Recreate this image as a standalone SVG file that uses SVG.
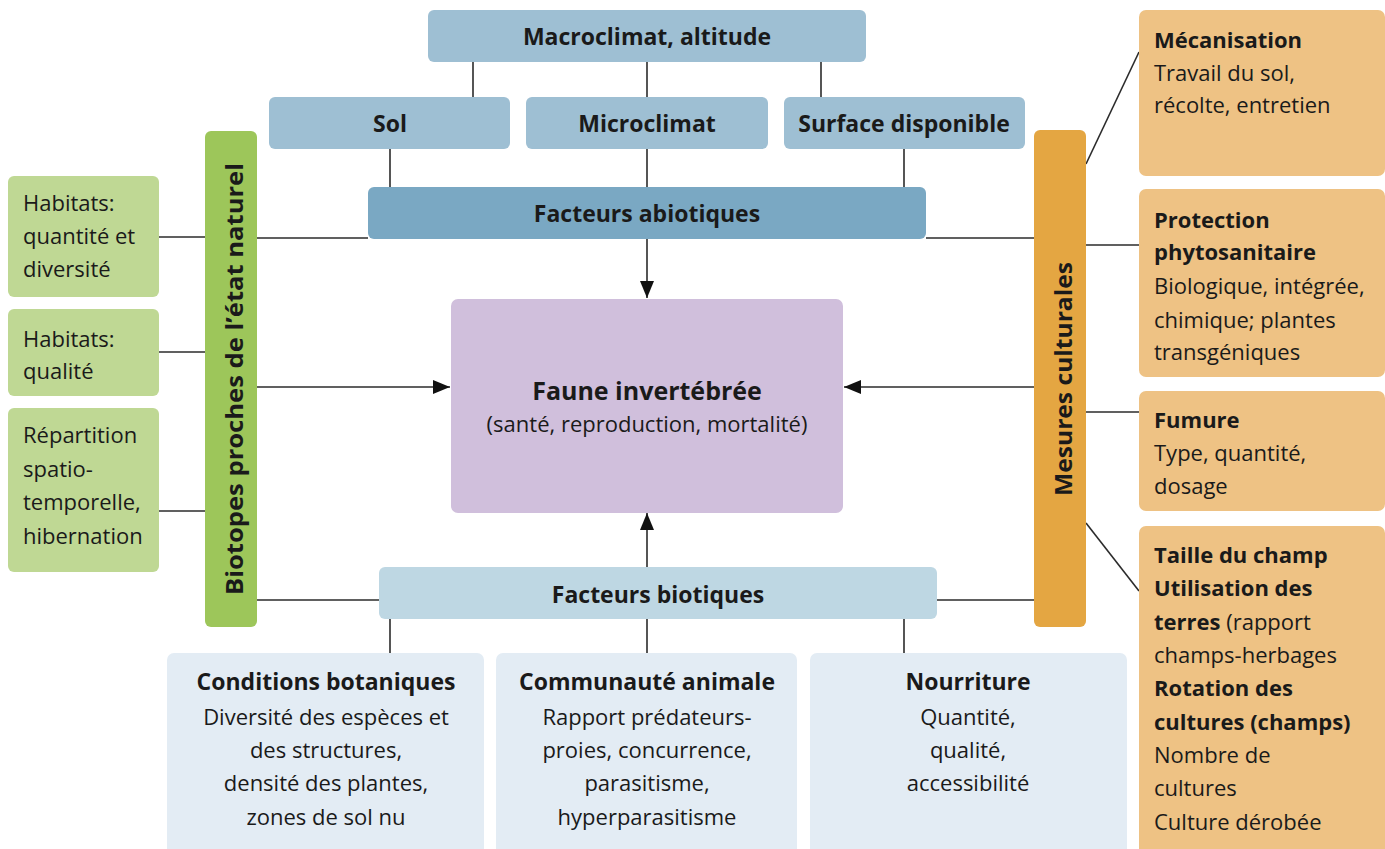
<svg xmlns="http://www.w3.org/2000/svg" width="1385" height="849" viewBox="0 0 1385 849">
<style>
text{font-family:"Open Sans","Noto Sans","DejaVu Sans",sans-serif;fill:#1a1a1a;font-size:22px}
.b{font-weight:bold}
.h{font-weight:bold;font-size:23px}
.c{text-anchor:middle}
.ab1{fill:#9ebfd3}
.ab2{fill:#7aa8c3}
.bi1{fill:#bed7e3}
.bi2{fill:#e3ecf4}
.pu{fill:#d0bfdc}
.gbar{fill:#9dc65a}
.gbox{fill:#bfd894}
.obar{fill:#e4a642}
.obox{fill:#eec284}
.ln{stroke:#2b2b2b;stroke-width:1.6;fill:none}
</style>
<defs>
<marker id="ah" markerUnits="userSpaceOnUse" markerWidth="18" markerHeight="14" refX="17" refY="7" orient="auto">
<path d="M0,0 L17,7 L0,14 Z" fill="#111"/>
</marker>
</defs>
<rect width="1385" height="849" fill="#ffffff"/>
<g id="connectors">
<line class="ln" x1="473" y1="62" x2="473" y2="97"/>
<line class="ln" x1="647" y1="62" x2="647" y2="97"/>
<line class="ln" x1="821" y1="62" x2="821" y2="97"/>
<line class="ln" x1="390" y1="149" x2="390" y2="187"/>
<line class="ln" x1="647" y1="149" x2="647" y2="187"/>
<line class="ln" x1="904" y1="149" x2="904" y2="187"/>
<line class="ln" x1="257" y1="238" x2="368" y2="238"/>
<line class="ln" x1="926" y1="238" x2="1034" y2="238"/>
<line class="ln" x1="257" y1="600" x2="379" y2="600"/>
<line class="ln" x1="937" y1="600" x2="1034" y2="600"/>
<line class="ln" x1="390" y1="619" x2="390" y2="653"/>
<line class="ln" x1="647" y1="619" x2="647" y2="653"/>
<line class="ln" x1="904" y1="619" x2="904" y2="653"/>
<line class="ln" x1="647" y1="239" x2="647" y2="298" marker-end="url(#ah)"/>
<line class="ln" x1="647" y1="567" x2="647" y2="513" marker-end="url(#ah)"/>
<line class="ln" x1="257" y1="387" x2="450" y2="387" marker-end="url(#ah)"/>
<line class="ln" x1="1034" y1="387" x2="844" y2="387" marker-end="url(#ah)"/>
<line class="ln" x1="159" y1="237" x2="205" y2="237"/>
<line class="ln" x1="159" y1="352" x2="205" y2="352"/>
<line class="ln" x1="159" y1="511" x2="205" y2="511"/>
<line class="ln" x1="1086" y1="164" x2="1139" y2="52"/>
<line class="ln" x1="1086" y1="245" x2="1139" y2="245"/>
<line class="ln" x1="1086" y1="412" x2="1139" y2="412"/>
<line class="ln" x1="1086" y1="523" x2="1139" y2="591"/>
</g>
<g id="macroclimat">
<rect class="ab1" x="428" y="10" width="438" height="52" rx="6"/>
<text class="h c" x="647" y="45">Macroclimat, altitude</text>
</g>
<g id="sol">
<rect class="ab1" x="269" y="97" width="241" height="52" rx="6"/>
<text class="h c" x="390" y="132">Sol</text>
</g>
<g id="microclimat">
<rect class="ab1" x="526" y="97" width="242" height="52" rx="6"/>
<text class="h c" x="647" y="132">Microclimat</text>
</g>
<g id="surface">
<rect class="ab1" x="784" y="97" width="241" height="52" rx="6"/>
<text class="h c" x="904" y="132">Surface disponible</text>
</g>
<g id="abiotiques">
<rect class="ab2" x="368" y="187" width="558" height="52" rx="6"/>
<text class="h c" x="647" y="222">Facteurs abiotiques</text>
</g>
<g id="faune">
<rect class="pu" x="451" y="299" width="392" height="214" rx="7"/>
<text class="b c" x="647" y="400" style="font-size:25px">Faune invertébrée</text>
<text class="c" x="647" y="432">(santé, reproduction, mortalité)</text>
</g>
<g id="biotiques">
<rect class="bi1" x="379" y="567" width="558" height="52" rx="6"/>
<text class="h c" x="658" y="603">Facteurs biotiques</text>
</g>
<g id="botaniques">
<rect class="bi2" x="167" y="653" width="317" height="210" rx="7"/>
<text class="h c" x="326" y="690">Conditions botaniques</text>
<text class="c" x="326" y="725">Diversité des espèces et</text>
<text class="c" x="326" y="758">des structures,</text>
<text class="c" x="326" y="791">densité des plantes,</text>
<text class="c" x="326" y="825">zones de sol nu</text>
</g>
<g id="animale">
<rect class="bi2" x="496" y="653" width="301" height="210" rx="7"/>
<text class="h c" x="647" y="690">Communauté animale</text>
<text class="c" x="647" y="725">Rapport prédateurs-</text>
<text class="c" x="647" y="758">proies, concurrence,</text>
<text class="c" x="647" y="791">parasitisme,</text>
<text class="c" x="647" y="825">hyperparasitisme</text>
</g>
<g id="nourriture">
<rect class="bi2" x="810" y="653" width="317" height="210" rx="7"/>
<text class="h c" x="968" y="690">Nourriture</text>
<text class="c" x="968" y="725">Quantité,</text>
<text class="c" x="968" y="758">qualité,</text>
<text class="c" x="968" y="791">accessibilité</text>
</g>
<g id="biotopes">
<rect class="gbar" x="205" y="131" width="52" height="496" rx="6"/>
<text class="b c" transform="translate(243,379) rotate(-90)" x="0" y="0" style="font-size:23px" textLength="432" lengthAdjust="spacingAndGlyphs">Biotopes proches de l’état naturel</text>
</g>
<g id="habitats-quantite">
<rect class="gbox" x="8" y="176" width="151" height="121" rx="6"/>
<text x="23" y="211">Habitats:</text>
<text x="23" y="244">quantité et</text>
<text x="23" y="277">diversité</text>
</g>
<g id="habitats-qualite">
<rect class="gbox" x="8" y="309" width="151" height="87" rx="6"/>
<text x="23" y="347">Habitats:</text>
<text x="23" y="379">qualité</text>
</g>
<g id="repartition">
<rect class="gbox" x="8" y="408" width="151" height="164" rx="6"/>
<text x="23" y="443">Répartition</text>
<text x="23" y="477">spatio-</text>
<text x="23" y="510">temporelle,</text>
<text x="23" y="544">hibernation</text>
</g>
<g id="mesures">
<rect class="obar" x="1034" y="130" width="52" height="497" rx="6"/>
<text class="b c" transform="translate(1072,379) rotate(-90)" x="0" y="0" style="font-size:23px" textLength="234" lengthAdjust="spacingAndGlyphs">Mesures culturales</text>
</g>
<g id="mecanisation">
<rect class="obox" x="1139" y="10" width="246" height="166" rx="7"/>
<text class="b" x="1154" y="48">Mécanisation</text>
<text x="1154" y="81">Travail du sol,</text>
<text x="1154" y="113">récolte, entretien</text>
</g>
<g id="protection">
<rect class="obox" x="1139" y="189" width="246" height="188" rx="7"/>
<text class="b" x="1154" y="228">Protection</text>
<text class="b" x="1154" y="260">phytosanitaire</text>
<text x="1154" y="294">Biologique, intégrée,</text>
<text x="1154" y="328">chimique; plantes</text>
<text x="1154" y="360">transgéniques</text>
</g>
<g id="fumure">
<rect class="obox" x="1139" y="391" width="246" height="120" rx="7"/>
<text class="b" x="1154" y="428">Fumure</text>
<text x="1154" y="461">Type, quantité,</text>
<text x="1154" y="494">dosage</text>
</g>
<g id="taille">
<rect class="obox" x="1139" y="526" width="246" height="340" rx="7"/>
<text class="b" x="1154" y="563">Taille du champ</text>
<text class="b" x="1154" y="596">Utilisation des</text>
<text x="1154" y="630"><tspan class="b">terres</tspan> (rapport</text>
<text x="1154" y="663">champs-herbages</text>
<text class="b" x="1154" y="696">Rotation des</text>
<text class="b" x="1154" y="730">cultures (champs)</text>
<text x="1154" y="763">Nombre de</text>
<text x="1154" y="796">cultures</text>
<text x="1154" y="830">Culture dérobée</text>
</g>
</svg>
